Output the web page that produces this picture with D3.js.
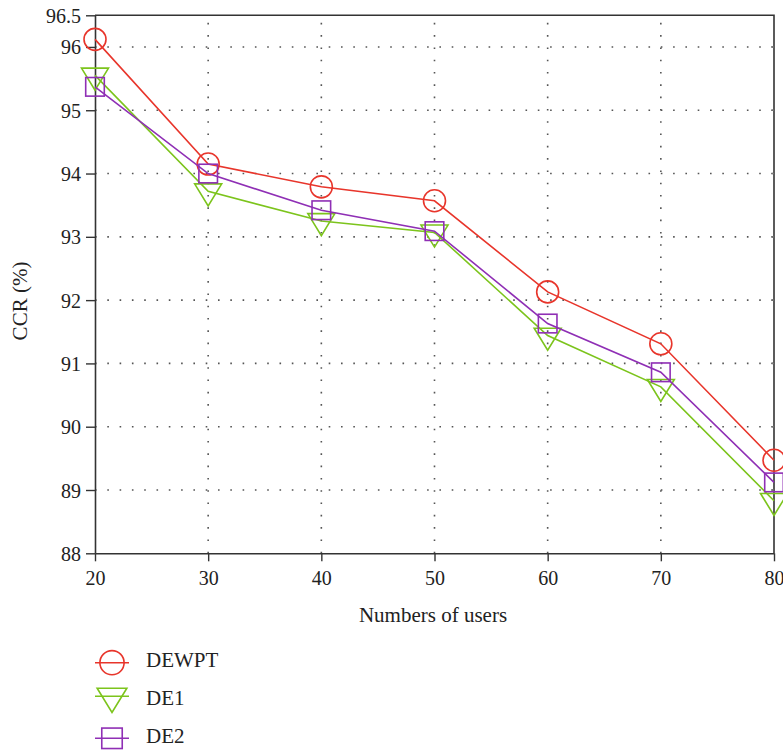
<!DOCTYPE html>
<html>
<head>
<meta charset="utf-8">
<script src="https://cdn.jsdelivr.net/npm/d3@7"></script>
<style>
  body { margin: 0; background: white; }
  svg text { font-family: "Liberation Serif", "Times New Roman", "DejaVu Serif", serif; }
</style>
</head>
<body>
<div id="chart"></div>
<script>
// Data
const users = [20, 30, 40, 50, 60, 70, 80];
const dewpt = [96.12, 94.15, 93.79, 93.57, 92.13, 91.31, 89.47];
const de1   = [95.55, 93.72, 93.25, 93.07, 91.44, 90.63, 88.83];
const de2   = [95.37, 94.00, 93.42, 93.09, 91.63, 90.86, 89.12];
const yTicks = [88, 89, 90, 91, 92, 93, 94, 95, 96, 96.5];
const seriesNames = ["DEWPT", "DE1", "DE2"];

const serif = '"Liberation Serif", "Times New Roman", "DejaVu Serif", serif';

let width = 783, height = 750;
let margin = { top: 15.3, bottom: 196.7, left: 95, right: 9 };

let svg = d3.select('#chart')
  .append('svg')
  .attr('width', width)
  .attr('height', height)
  .attr('font-family', serif)
  .style('background', 'white');

let xScale = d3.scaleLinear()
  .domain([20, 80])
  .range([margin.left, width - margin.right]);

let yScale = d3.scaleLinear()
  .domain([88, 96.5])
  .range([height - margin.bottom, margin.top]);

const x0 = xScale.range()[0], x1 = xScale.range()[1];
const y0 = yScale.range()[0], y1 = yScale.range()[1];

// dotted grid
const grid = svg.append('g')
  .attr('stroke', '#555')
  .attr('stroke-width', 1.6)
  .attr('stroke-dasharray', '1.6,10.7');

grid.selectAll('.vg')
  .data(users.slice(1, -1))
  .enter()
  .append('line')
  .attr('x1', d => xScale(d)).attr('x2', d => xScale(d))
  .attr('y1', y0).attr('y2', y1);

grid.selectAll('.hg')
  .data(yTicks.filter(d => d > 88 && d < 96.5))
  .enter()
  .append('line')
  .attr('x1', x0).attr('x2', x1)
  .attr('y1', d => yScale(d)).attr('y2', d => yScale(d));

// axes
let xAxis = svg.append('g')
  .attr('transform', `translate(0,${y0})`)
  .call(d3.axisBottom(xScale).tickValues(users).tickSize(8).tickPadding(5).tickSizeOuter(0));

let yAxis = svg.append('g')
  .attr('transform', `translate(${x0},0)`)
  .call(d3.axisLeft(yScale).tickValues(yTicks).tickSize(9).tickPadding(5).tickSizeOuter(0)
    .tickFormat(d => d === 96.5 ? '96.5' : d3.format('d')(d)));

[xAxis, yAxis].forEach(a => {
  a.attr('font-family', serif).attr('font-size', 20);
  a.selectAll('path').attr('stroke', '#333').attr('stroke-width', 1.6);
  a.selectAll('line').attr('stroke', '#333').attr('stroke-width', 1.4);
  a.selectAll('text').attr('fill', '#222');
});
xAxis.selectAll('text').attr('dy', '0.95em');
yAxis.selectAll('text').attr('dy', '0.35em');

// top and right frame
svg.append('path')
  .attr('d', `M${x0},${y1}H${x1}V${y0}`)
  .attr('fill', 'none')
  .attr('stroke', '#333')
  .attr('stroke-width', 1.6);

// small inner ticks on right edge
svg.selectAll('.rt')
  .data(yTicks.filter(d => d > 88 && d < 96.5))
  .enter()
  .append('line')
  .attr('x1', x1 - 3).attr('x2', x1)
  .attr('y1', d => yScale(d)).attr('y2', d => yScale(d))
  .attr('stroke', '#777')
  .attr('stroke-width', 1.2);

// axis titles
svg.append('text')
  .attr('x', 433)
  .attr('y', 622)
  .attr('text-anchor', 'middle')
  .attr('font-size', 21)
  .attr('fill', '#222')
  .text('Numbers of users');

svg.append('text')
  .attr('transform', 'translate(27,301) rotate(-90)')
  .attr('text-anchor', 'middle')
  .attr('font-size', 21)
  .attr('fill', '#222')
  .text('CCR (%)');

// series
const colors = ['#e8352b', '#7cc41c', '#8f2fb5'];
const shapes = ['circle', 'triangle', 'square'];
const series = [dewpt, de1, de2].map((vals, i) => ({
  name: seriesNames[i],
  color: colors[i],
  shape: shapes[i],
  values: vals.map((v, j) => ({ x: users[j], y: v }))
}));

// marker drawer: point is the centroid for triangles
function marker(g, shape, cx, cy, s, color) {
  if (shape === 'circle') {
    g.append('circle').attr('cx', cx).attr('cy', cy).attr('r', 11 * s);
  } else if (shape === 'triangle') {
    const w = 13.5 * s, h = 22 * s;
    g.append('path')
      .attr('d', `M${cx - w},${cy - h / 3}L${cx + w},${cy - h / 3}L${cx},${cy + 2 * h / 3}Z`);
  } else {
    const a = 9.3 * s;
    g.append('rect').attr('x', cx - a).attr('y', cy - a).attr('width', 2 * a).attr('height', 2 * a);
  }
  g.selectAll('*').attr('fill', 'none').attr('stroke', color).attr('stroke-width', 1.6);
}

let line = d3.line()
  .x(d => xScale(d.x))
  .y(d => yScale(d.y));

series.forEach(s => {
  svg.append('path')
    .datum(s.values)
    .attr('d', line)
    .attr('fill', 'none')
    .attr('stroke', s.color)
    .attr('stroke-width', 1.6);

  s.values.forEach(d => {
    marker(svg.append('g'), s.shape, xScale(d.x), yScale(d.y), 1, s.color);
  });
});

// legend
const legendLineY = [662.7, 696.3, 738.3];
series.forEach((s, i) => {
  const g = svg.append('g');
  const ly = legendLineY[i];
  g.append('line')
    .attr('x1', 95).attr('x2', 129)
    .attr('y1', ly).attr('y2', ly)
    .attr('stroke', s.color)
    .attr('stroke-width', 1.6);
  marker(g.append('g'), s.shape, 112, ly, 1.1, s.color);
  svg.append('text')
    .attr('x', 146)
    .attr('y', [667.3, 705, 743.3][i])
    .attr('font-size', 21)
    .attr('fill', '#222')
    .text(s.name);
});
</script>
</body>
</html>
